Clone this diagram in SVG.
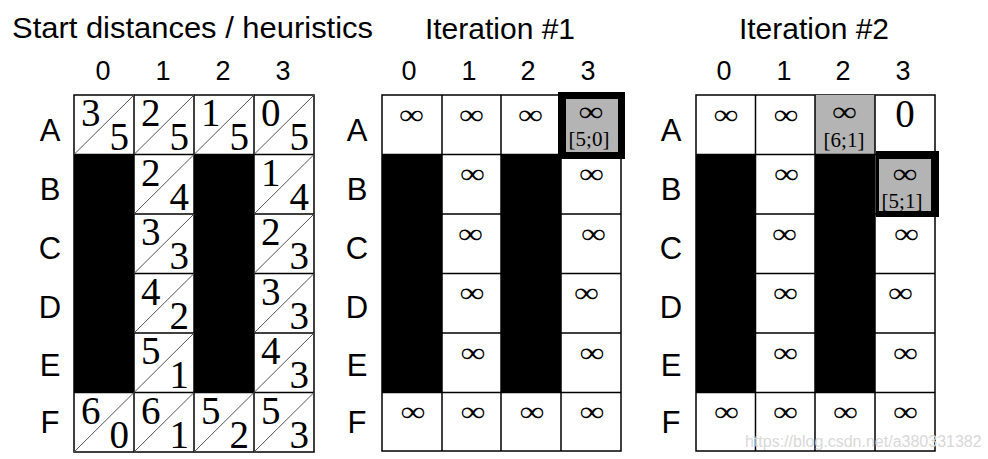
<svg xmlns="http://www.w3.org/2000/svg" width="988" height="459" viewBox="0 0 988 459">
<style>
.hd{font-family:"Liberation Sans",Arial,sans-serif;font-size:30px;fill:#000}
.col{font-family:"Liberation Sans",Arial,sans-serif;font-size:27px;fill:#000;text-anchor:middle}
.row{font-family:"Liberation Sans",Arial,sans-serif;font-size:31px;fill:#000;text-anchor:middle}
.num{font-family:"Liberation Serif","Times New Roman",serif;font-size:39px;fill:#000}
.br{text-anchor:end}
.inf{font-family:"Liberation Serif","Times New Roman",serif;font-size:28px;fill:#000;text-anchor:middle}
.pr{font-family:"Liberation Serif","Times New Roman",serif;font-size:21px;fill:#000;text-anchor:middle}
.bg{fill:#fff;stroke:#000;stroke-width:1.5}
.blk{fill:#000}
.ln{stroke:#000;stroke-width:1.5;fill:none}
.dg{stroke:#555;stroke-width:1;fill:none}
.gray{fill:#b4b4b4}
.wm{font-family:"Liberation Sans",Arial,sans-serif;font-size:16px;fill:#d8d8d8}
</style>
<rect width="988" height="459" fill="#fff"/>

<g id="titles">
<text class="hd" x="12" y="38" textLength="361" lengthAdjust="spacingAndGlyphs">Start distances / heuristics</text>
<text class="hd" x="500" y="39" text-anchor="middle">Iteration #1</text>
<text class="hd" x="814" y="39" text-anchor="middle">Iteration #2</text>
</g>

<g id="grid-start">
<g id="start-axes">
<text class="col" x="103" y="80">0</text><text class="col" x="163" y="80">1</text><text class="col" x="223" y="80">2</text><text class="col" x="283" y="80">3</text>
<text class="row" x="50" y="141">A</text><text class="row" x="50" y="200">B</text><text class="row" x="50" y="259">C</text><text class="row" x="50" y="318">D</text><text class="row" x="50" y="376">E</text><text class="row" x="50" y="433">F</text>
</g>
<rect class="bg" x="74" y="95" width="240" height="357"/>
<rect class="blk" x="74" y="154.5" width="60" height="238"/>
<rect class="blk" x="194" y="154.5" width="60" height="238"/>
<path class="ln" d="M134 95V452M194 95V452M254 95V452M74 154.5H314M74 214H314M74 273.5H314M74 333H314M74 392.5H314"/>
<path class="dg" d="M74 154.5L134 95M134 154.5L194 95M194 154.5L254 95M254 154.5L314 95M134 214L194 154.5M254 214L314 154.5M134 273.5L194 214M254 273.5L314 214M134 333L194 273.5M254 333L314 273.5M134 392.5L194 333M254 392.5L314 333M74 452L134 392.5M134 452L194 392.5M194 452L254 392.5M254 452L314 392.5"/>
<g id="start-A0"><text class="num" x="81" y="126">3</text><text class="num br" x="129" y="150">5</text></g>
<g id="start-A1"><text class="num" x="141" y="126">2</text><text class="num br" x="189" y="150">5</text></g>
<g id="start-A2"><text class="num" x="201" y="126">1</text><text class="num br" x="249" y="150">5</text></g>
<g id="start-A3"><text class="num" x="261" y="126">0</text><text class="num br" x="309" y="150">5</text></g>
<g id="start-B1"><text class="num" x="141" y="185.5">2</text><text class="num br" x="189" y="209.5">4</text></g>
<g id="start-B3"><text class="num" x="261" y="185.5">1</text><text class="num br" x="309" y="209.5">4</text></g>
<g id="start-C1"><text class="num" x="141" y="245">3</text><text class="num br" x="189" y="269">3</text></g>
<g id="start-C3"><text class="num" x="261" y="245">2</text><text class="num br" x="309" y="269">3</text></g>
<g id="start-D1"><text class="num" x="141" y="304.5">4</text><text class="num br" x="189" y="328.5">2</text></g>
<g id="start-D3"><text class="num" x="261" y="304.5">3</text><text class="num br" x="309" y="328.5">3</text></g>
<g id="start-E1"><text class="num" x="141" y="364">5</text><text class="num br" x="189" y="388">1</text></g>
<g id="start-E3"><text class="num" x="261" y="364">4</text><text class="num br" x="309" y="388">3</text></g>
<g id="start-F0"><text class="num" x="81" y="423.5">6</text><text class="num br" x="129" y="447.5">0</text></g>
<g id="start-F1"><text class="num" x="141" y="423.5">6</text><text class="num br" x="189" y="447.5">1</text></g>
<g id="start-F2"><text class="num" x="201" y="423.5">5</text><text class="num br" x="249" y="447.5">2</text></g>
<g id="start-F3"><text class="num" x="261" y="423.5">5</text><text class="num br" x="309" y="447.5">3</text></g>
</g>

<g id="grid-iter1">
<g id="iter1-axes">
<text class="col" x="409" y="80">0</text><text class="col" x="469" y="80">1</text><text class="col" x="528" y="80">2</text><text class="col" x="588" y="80">3</text>
<text class="row" x="357" y="141">A</text><text class="row" x="357" y="200">B</text><text class="row" x="357" y="259">C</text><text class="row" x="357" y="318">D</text><text class="row" x="357" y="376">E</text><text class="row" x="357" y="433">F</text>
</g>
<rect class="bg" x="382" y="95" width="239" height="356"/>
<rect class="blk" x="382" y="154.5" width="60" height="238"/>
<rect class="blk" x="501" y="154.5" width="60" height="238"/>
<path class="ln" d="M442 95V451M501 95V451M561 95V451M382 154.5H621M382 214H621M382 273.5H621M382 333H621M382 392.5H621"/>
<g id="iter1-A3">
<rect class="blk" x="558" y="92" width="67" height="67"/>
<rect class="gray" x="566" y="99" width="52" height="53"/>
<text class="inf" x="591" y="120.5" textLength="25" lengthAdjust="spacingAndGlyphs">∞</text>
<text class="pr" x="589" y="146">[5;0]</text>
</g>
<g id="iter1-inf">
<text class="inf" x="411.5" y="123.5" textLength="25" lengthAdjust="spacingAndGlyphs">∞</text><text class="inf" x="471.5" y="123.5" textLength="25" lengthAdjust="spacingAndGlyphs">∞</text><text class="inf" x="530.5" y="123.5" textLength="25" lengthAdjust="spacingAndGlyphs">∞</text>
<text class="inf" x="472.5" y="183" textLength="25" lengthAdjust="spacingAndGlyphs">∞</text><text class="inf" x="591.5" y="183" textLength="25" lengthAdjust="spacingAndGlyphs">∞</text>
<text class="inf" x="470.5" y="242.5" textLength="25" lengthAdjust="spacingAndGlyphs">∞</text><text class="inf" x="593.5" y="242.5" textLength="25" lengthAdjust="spacingAndGlyphs">∞</text>
<text class="inf" x="472" y="302" textLength="25" lengthAdjust="spacingAndGlyphs">∞</text><text class="inf" x="586.5" y="302" textLength="25" lengthAdjust="spacingAndGlyphs">∞</text>
<text class="inf" x="473" y="361.5" textLength="25" lengthAdjust="spacingAndGlyphs">∞</text><text class="inf" x="592" y="361.5" textLength="25" lengthAdjust="spacingAndGlyphs">∞</text>
<text class="inf" x="413" y="420.5" textLength="25" lengthAdjust="spacingAndGlyphs">∞</text><text class="inf" x="473" y="420.5" textLength="25" lengthAdjust="spacingAndGlyphs">∞</text><text class="inf" x="532" y="420.5" textLength="25" lengthAdjust="spacingAndGlyphs">∞</text><text class="inf" x="592" y="420.5" textLength="25" lengthAdjust="spacingAndGlyphs">∞</text>
</g>
</g>

<g id="grid-iter2">
<g id="iter2-axes">
<text class="col" x="724" y="80">0</text><text class="col" x="784" y="80">1</text><text class="col" x="843" y="80">2</text><text class="col" x="903" y="80">3</text>
<text class="row" x="671" y="141">A</text><text class="row" x="671" y="200">B</text><text class="row" x="671" y="259">C</text><text class="row" x="671" y="318">D</text><text class="row" x="671" y="376">E</text><text class="row" x="671" y="433">F</text>
</g>
<rect class="bg" x="696" y="95" width="239" height="356"/>
<rect class="gray" x="815" y="95" width="60" height="59.5"/>
<rect class="blk" x="696" y="154.5" width="59.5" height="238"/>
<rect class="blk" x="815" y="154.5" width="60" height="238"/>
<path class="ln" d="M755.5 95V451M815 95V451M875 95V451M696 154.5H935M696 214H935M696 273.5H935M696 333H935M696 392.5H935"/>
<g id="iter2-A2">
<text class="inf" x="844.5" y="120.5" textLength="25" lengthAdjust="spacingAndGlyphs">∞</text>
<text class="pr" x="844" y="146.5">[6;1]</text>
</g>
<g id="iter2-A3"><text class="num" x="905" y="127" text-anchor="middle">0</text></g>
<g id="iter2-B3">
<rect class="blk" x="876" y="151" width="63" height="66"/>
<rect class="gray" x="879" y="159" width="52" height="52"/>
<text class="inf" x="905" y="182.5" textLength="25" lengthAdjust="spacingAndGlyphs">∞</text>
<text class="pr" x="902" y="208">[5;1]</text>
</g>
<g id="iter2-inf">
<text class="inf" x="726" y="123.5" textLength="25" lengthAdjust="spacingAndGlyphs">∞</text><text class="inf" x="786" y="123.5" textLength="25" lengthAdjust="spacingAndGlyphs">∞</text>
<text class="inf" x="786.5" y="183" textLength="25" lengthAdjust="spacingAndGlyphs">∞</text>
<text class="inf" x="784.5" y="242.5" textLength="25" lengthAdjust="spacingAndGlyphs">∞</text><text class="inf" x="906.5" y="242.5" textLength="25" lengthAdjust="spacingAndGlyphs">∞</text>
<text class="inf" x="785.5" y="302" textLength="25" lengthAdjust="spacingAndGlyphs">∞</text><text class="inf" x="900.5" y="302" textLength="25" lengthAdjust="spacingAndGlyphs">∞</text>
<text class="inf" x="785.5" y="361.5" textLength="25" lengthAdjust="spacingAndGlyphs">∞</text><text class="inf" x="905.5" y="361.5" textLength="25" lengthAdjust="spacingAndGlyphs">∞</text>
<text class="inf" x="726.5" y="420.5" textLength="25" lengthAdjust="spacingAndGlyphs">∞</text><text class="inf" x="785.5" y="420.5" textLength="25" lengthAdjust="spacingAndGlyphs">∞</text><text class="inf" x="845.5" y="420.5" textLength="25" lengthAdjust="spacingAndGlyphs">∞</text><text class="inf" x="905.5" y="420.5" textLength="25" lengthAdjust="spacingAndGlyphs">∞</text>
</g>
</g>

<text class="wm" x="745" y="447">https://blog.csdn.net/a380331382</text>
</svg>
